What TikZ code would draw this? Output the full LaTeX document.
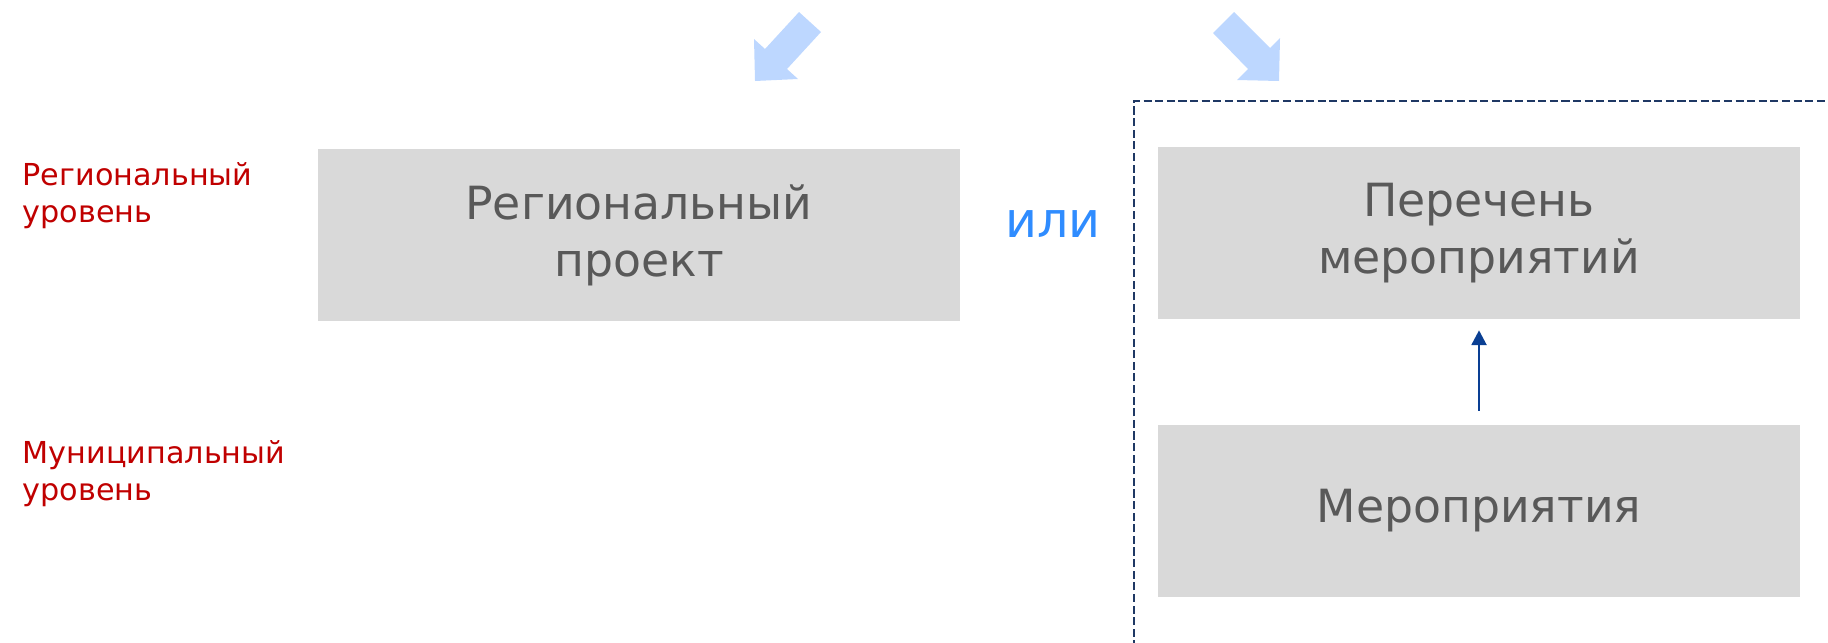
\documentclass[tikz,border=0pt]{standalone}
\usepackage{fontspec}
\setmainfont{DejaVu Sans}
\usetikzlibrary{arrows.meta,positioning}
\definecolor{boxgray}{HTML}{D9D9D9}
\definecolor{textgray}{HTML}{595959}
\definecolor{levelred}{HTML}{C00000}
\definecolor{orblue}{HTML}{2F8CFF}
\definecolor{hintblue}{HTML}{BDD7FF}
\definecolor{framenavy}{HTML}{1F3864}
\definecolor{linkblue}{HTML}{0A3F93}

\tikzset{
  stage/.style={fill=boxgray, text=textgray, align=center, inner sep=0pt,
    minimum width=6.42cm, minimum height=1.71cm, font=\fontsize{13}{16.2}\selectfont},
  level/.style={text=levelred, align=left, inner sep=0pt, anchor=north west,
    font=\fontsize{8.6}{10.4}\selectfont},
  hint/.style={fill=hintblue, draw=none}
}

\begin{document}
\begin{tikzpicture}[x=0.01cm, y=-0.01cm]
    \useasboundingbox (0,0) rectangle (1828,642);
    % levels
    \node[level] (reglvl) at (22,162) {Региональный\\уровень};
    \node[level] (munlvl) at (22,440) {Муниципальный\\уровень};
    % boxes
    \node[stage] (regproj) at (639,235) {Региональный\\проект};
    \node[stage] (perechen) at (1479,233) {Перечень\\мероприятий};
    \node[stage] (merop) at (1479,511) {Мероприятия};
    \node[text=orblue, font=\fontsize{14}{16}\selectfont] (ili) at (1053,224) {или};
    % frame
    \draw[framenavy, line width=0.8pt, dash pattern=on 2.3pt off 1pt]
          (1134,660) -- (1134,101) -- (1840,101);
    \draw[linkblue, line width=0.75pt, -{Triangle[length=4.2pt,width=4.2pt]},
          shorten <=0.14cm, shorten >=0.11cm] (merop) -- (perechen);
    % hint arrows
    \fill[hint] (754,39) -- (755,81) -- (798,79) -- (787,69) -- (821,32)
          -- (799,12) -- (765,49) -- cycle;
    \fill[hint] (1234,12) -- (1213,33) -- (1248,69) -- (1237,80) -- (1279,81)
          -- (1280,38) -- (1270,48) -- cycle;
\end{tikzpicture}
\end{document}
